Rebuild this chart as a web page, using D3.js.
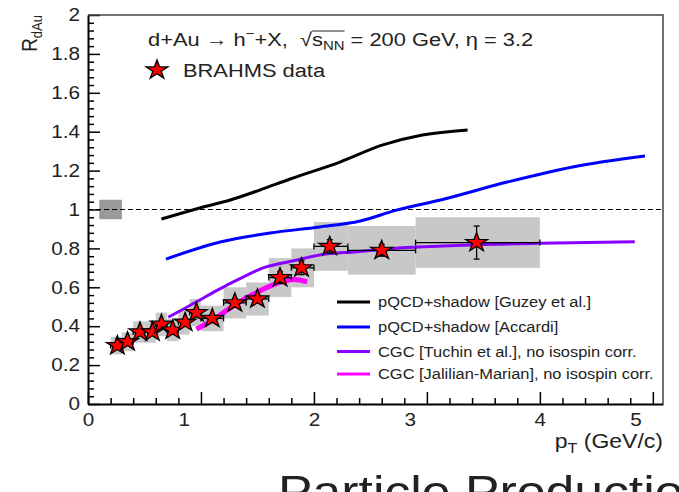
<!DOCTYPE html>
<html>
<head>
<meta charset="utf-8">
<script src="https://cdn.jsdelivr.net/npm/d3@7"></script>
<style>
  body { margin: 0; background: #fff; }
  text { font-family: "Liberation Sans", Arial, Helvetica, sans-serif; fill: #222; white-space: pre; }
</style>
</head>
<body>
<svg id="chart" width="679" height="492"></svg>
<script>
// BRAHMS h- nuclear modification factor at eta = 3.2
const pt      = [0.26, 0.35, 0.46, 0.57, 0.65, 0.75, 0.86, 0.96, 1.10, 1.30, 1.50, 1.70, 1.89, 2.14, 2.60, 3.44];
const rdau    = [0.30, 0.32, 0.37, 0.37, 0.41, 0.38, 0.42, 0.47, 0.44, 0.52, 0.54, 0.65, 0.70, 0.81, 0.79, 0.83];
const binLo   = [0.20, 0.30, 0.40, 0.50, 0.60, 0.70, 0.80, 0.90, 1.00, 1.20, 1.40, 1.60, 1.80, 2.00, 2.30, 2.90];
const binHi   = [0.30, 0.40, 0.50, 0.60, 0.70, 0.80, 0.90, 1.00, 1.20, 1.40, 1.60, 1.80, 2.00, 2.30, 2.90, 4.00];
const statErr = [0.010, 0.010, 0.010, 0.010, 0.012, 0.012, 0.013, 0.015, 0.015, 0.020, 0.020, 0.030, 0.035, 0.035, 0.030, 0.085];
const sysErr  = [0.045, 0.048, 0.055, 0.055, 0.060, 0.057, 0.063, 0.070, 0.066, 0.080, 0.085, 0.100, 0.100, 0.125, 0.125, 0.130];

// Theory curves
const guzeyPt = [0.65, 0.99, 1.26, 1.52, 1.79, 2.23, 2.61, 2.96, 3.36];
const guzeyR  = [0.951, 1.008, 1.049, 1.100, 1.157, 1.244, 1.332, 1.383, 1.409];
const accardiPt = [0.69, 1.17, 1.61, 2.05, 2.41, 2.73, 3.12, 3.71, 4.29, 4.93];
const accardiR  = [0.745, 0.833, 0.879, 0.910, 0.941, 0.997, 1.049, 1.141, 1.219, 1.275];
const tuchinPt = [0.71, 0.85, 0.99, 1.13, 1.26, 1.40, 1.55, 1.68, 1.81, 2.05, 2.38, 2.70, 3.03, 3.50, 4.00, 4.84];
const tuchinR  = [0.446, 0.490, 0.535, 0.580, 0.620, 0.660, 0.700, 0.720, 0.735, 0.766, 0.783, 0.800, 0.810, 0.820, 0.826, 0.834];
const jalilianPt = [0.96, 1.10, 1.25, 1.40, 1.55, 1.70, 1.82, 1.94];
const jalilianR  = [0.385, 0.430, 0.490, 0.545, 0.590, 0.625, 0.640, 0.628];

const legendLabels = [
  "pQCD+shadow [Guzey et al.]",
  "pQCD+shadow [Accardi]",
  "CGC [Tuchin et al.], no isospin corr.",
  "CGC [Jalilian-Marian], no isospin corr."
];
const curveColors = ["#000000", "#0000ff", "#8800ff", "#ff00ff"];
const curveWidths = [3, 3, 3, 5];

const xMajorTicks = [0, 1, 2, 3, 4, 5];
const yMajorTicks = [0, 0.2, 0.4, 0.6, 0.8, 1.0, 1.2, 1.4, 1.6, 1.8, 2.0];

// Normalisation uncertainty band at R = 1
const normBox = { lo: 0.1, hi: 0.3, r: 1.0, err: 0.05 };

const SX = 1.15; // glyphs are drawn slightly wide

const svg = d3.select("#chart");
const x = d3.scaleLinear([0, 5.09], [88, 663]);
const y = d3.scaleLinear([0, 2], [404, 15]);

// normalisation box
svg.append("rect")
  .attr("x", x(normBox.lo)).attr("width", x(normBox.hi) - x(normBox.lo))
  .attr("y", y(normBox.r + normBox.err)).attr("height", y(normBox.r - normBox.err) - y(normBox.r + normBox.err))
  .attr("fill", "#999");

// systematic boxes
svg.append("g").selectAll("rect").data(d3.range(pt.length)).join("rect")
  .attr("x", i => x(binLo[i])).attr("width", i => x(binHi[i]) - x(binLo[i]))
  .attr("y", i => y(rdau[i] + sysErr[i])).attr("height", i => y(rdau[i] - sysErr[i]) - y(rdau[i] + sysErr[i]))
  .attr("fill", "#c8c8c8");

// unity reference
svg.append("line")
  .attr("x1", x(0)).attr("x2", x(5.09)).attr("y1", y(1)).attr("y2", y(1))
  .attr("stroke", "#000").attr("stroke-width", 1).attr("stroke-dasharray", "5,3");

// theory curves
const curves = [
  [guzeyPt, guzeyR], [accardiPt, accardiR], [tuchinPt, tuchinR], [jalilianPt, jalilianR]
];
const line = d3.line().x(d => x(d[0])).y(d => y(d[1])).curve(d3.curveMonotoneX);
curves.forEach(([px, pr], k) => {
  svg.append("path")
    .attr("d", line(d3.zip(px, pr)))
    .attr("fill", "none").attr("stroke", curveColors[k]).attr("stroke-width", curveWidths[k])
    .attr("stroke-linejoin", "round");
});

// error bars
const eb = svg.append("g").attr("stroke", "#000").attr("stroke-width", 1.3);
d3.range(pt.length).forEach(i => {
  const cx = x(pt[i]), cy = y(rdau[i]);
  const xl = x(binLo[i]), xh = x(binHi[i]);
  const yt = y(rdau[i] + statErr[i]), yb = y(rdau[i] - statErr[i]);
  eb.append("line").attr("x1", xl).attr("x2", xh).attr("y1", cy).attr("y2", cy);
  eb.append("line").attr("x1", xl).attr("x2", xl).attr("y1", cy - 3).attr("y2", cy + 3);
  eb.append("line").attr("x1", xh).attr("x2", xh).attr("y1", cy - 3).attr("y2", cy + 3);
  eb.append("line").attr("x1", cx).attr("x2", cx).attr("y1", yt).attr("y2", yb);
  eb.append("line").attr("x1", cx - 3).attr("x2", cx + 3).attr("y1", yt).attr("y2", yt);
  eb.append("line").attr("x1", cx - 3).attr("x2", cx + 3).attr("y1", yb).attr("y2", yb);
});

// data stars
const star = d3.symbol(d3.symbolStar, 112)();
svg.append("g").selectAll("path").data(d3.range(pt.length)).join("path")
  .attr("d", star)
  .attr("transform", i => `translate(${x(pt[i])},${y(rdau[i])}) scale(${SX},1)`)
  .attr("fill", "#ff0000").attr("stroke", "#000").attr("stroke-width", 1.2);

// axes
const xMinor = d3.range(0, 5.09, 0.2).filter(v => Math.abs(v - Math.round(v)) > 1e-6);
const yMinor = d3.range(0, 2.0001, 0.04).filter(v => Math.abs(v * 5 - Math.round(v * 5)) > 1e-6);

svg.append("g").attr("transform", `translate(0,${y(0)})`)
  .call(d3.axisBottom(x).tickValues(xMinor).tickSize(-6).tickSizeOuter(0).tickFormat(""))
  .call(g => g.select(".domain").remove())
  .call(g => g.selectAll(".tick line").attr("stroke-width", 1.5));

const xAxis = svg.append("g").attr("transform", `translate(0,${y(0)})`)
  .call(d3.axisBottom(x).tickValues(xMajorTicks).tickSize(-12).tickSizeOuter(0).tickPadding(9).tickFormat(d3.format("d")));
xAxis.select(".domain").attr("stroke-width", 2);
xAxis.selectAll(".tick line").attr("stroke-width", 1.5);
xAxis.selectAll(".tick text")
  .attr("font-size", 18).attr("fill", "#222")
  .attr("x", d => (d % 2 === 1 ? -15 : 0))
  .attr("transform", `scale(${SX},1)`);

svg.append("g").attr("transform", `translate(${x(0)},0)`)
  .call(d3.axisLeft(y).tickValues(yMinor).tickSize(-6).tickSizeOuter(0).tickFormat(""))
  .call(g => g.select(".domain").remove())
  .call(g => g.selectAll(".tick line").attr("stroke-width", 1.5));

const yAxis = svg.append("g").attr("transform", `translate(${x(0)},0)`)
  .call(d3.axisLeft(y).tickValues(yMajorTicks).tickSize(-12).tickSizeOuter(0).tickPadding(7).tickFormat(d3.format("~g")));
yAxis.select(".domain").attr("stroke-width", 2);
yAxis.selectAll(".tick line").attr("stroke-width", 1.5);
yAxis.selectAll(".tick text")
  .attr("font-size", 18).attr("fill", "#222")
  .attr("transform", `scale(${SX},1)`);

// frame top / right
svg.append("path")
  .attr("d", `M${x(0)},${y(2)}H${x(5.09)}V${y(0)}`)
  .attr("fill", "none").attr("stroke", "#444").attr("stroke-width", 1.5);

// helper for widened text
function label(px, py, size, anchor) {
  return svg.append("text")
    .attr("transform", `translate(${px},${py}) scale(${SX},1)`)
    .attr("font-size", size).attr("text-anchor", anchor || "start");
}

// axis titles
const yt = svg.append("text")
  .attr("transform", `translate(37,15) scale(${SX},1) rotate(-90)`)
  .attr("font-size", 19).attr("text-anchor", "end");
yt.append("tspan").text("R");
yt.append("tspan").attr("font-size", 13).attr("dy", 4).text("dAu");

const xt = label(663, 448, 20, "end");
xt.append("tspan").text("p");
xt.append("tspan").attr("font-size", 14).attr("dy", 5).text("T");
xt.append("tspan").attr("dy", -5).text(" (GeV/c)");

// header
const hd = label(148, 46, 19);
const headPre = "d+Au \u2192 h";
hd.append("tspan").text(headPre);
hd.append("tspan").attr("font-size", 13).attr("dy", -8).text("\u2212");
hd.append("tspan").attr("dy", 8).text("+X,  \u221A");
const sIdx = (headPre + "\u2212+X,  \u221A").length;
hd.append("tspan").text("s");
hd.append("tspan").attr("font-size", 13).attr("dy", 4).text("NN");
hd.append("tspan").attr("dy", -4).text(" = 200 GeV, \u03B7 = 3.2");
{
  const node = hd.node();
  const a = node.getExtentOfChar(sIdx);
  const b = node.getExtentOfChar(sIdx + 2);
  svg.append("line")
    .attr("x1", 148 + SX * a.x).attr("x2", 148 + SX * (b.x + b.width))
    .attr("y1", 46 - 15).attr("y2", 46 - 15)
    .attr("stroke", "#222").attr("stroke-width", 1);
}

// data legend
svg.append("path").attr("d", star)
  .attr("transform", `translate(157,70) scale(${SX},1)`)
  .attr("fill", "#ff0000").attr("stroke", "#000").attr("stroke-width", 1.2);
label(183, 77, 19).text("BRAHMS data");

// theory legend
const legendY = [302, 327, 351.5, 374];
legendLabels.forEach((t, k) => {
  svg.append("line")
    .attr("x1", 337).attr("x2", 370).attr("y1", legendY[k]).attr("y2", legendY[k])
    .attr("stroke", curveColors[k]).attr("stroke-width", 3);
  label(378, legendY[k] + 5, 14.3).text(t);
});

// section heading below the figure
label(278, 507, 45).text("Particle Production");
</script>
</body>
</html>
